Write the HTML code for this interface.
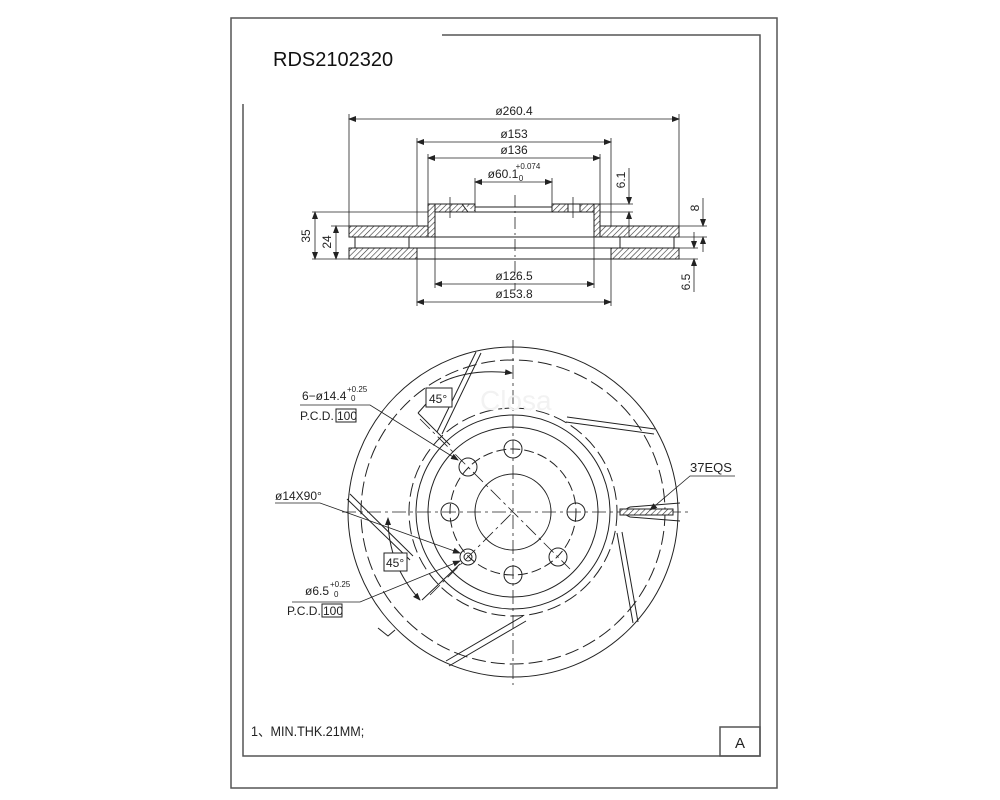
<!DOCTYPE html>
<html><head><meta charset="utf-8"><style>
html,body{margin:0;padding:0;background:#fff;}
svg{display:block;font-family:"Liberation Sans",sans-serif;}
</style></head><body>
<svg width="1000" height="800" viewBox="0 0 1000 800" xmlns="http://www.w3.org/2000/svg">
<defs>
<pattern id="h" width="4" height="4" patternUnits="userSpaceOnUse" patternTransform="rotate(45)">
<rect width="4" height="4" fill="#fff"/><line x1="0" y1="0" x2="0" y2="4" stroke="#333" stroke-width="1.2"/>
</pattern>
<marker id="a" markerWidth="8" markerHeight="6" refX="7" refY="3" orient="auto" markerUnits="userSpaceOnUse"><path d="M0,0L8,3L0,6z" fill="#222"/></marker>
<marker id="as" markerWidth="8" markerHeight="6" refX="1" refY="3" orient="auto" markerUnits="userSpaceOnUse"><path d="M8,0L0,3L8,6z" fill="#222"/></marker>
</defs>
<g fill="none" stroke="#555" stroke-width="1.5">
<rect x="231" y="18" width="546" height="770"/>
<polyline points="442,35 760,35 760,756 243,756 243,104"/>
<rect x="720" y="727" width="40" height="29"/>
</g>
<text x="273" y="66" font-size="20" fill="#111">RDS2102320</text>
<text x="251" y="736" font-size="14" fill="#222" transform="scale(0.9,1)" transform-origin="251 736">1、MIN.THK.21MM;</text>
<text x="735" y="748" font-size="15" fill="#222">A</text>

<!-- section view -->
<g stroke="#222" stroke-width="1">
<rect x="349" y="226" width="79" height="11" fill="url(#h)"/>
<rect x="600" y="226" width="79" height="11" fill="url(#h)"/>
<rect x="428" y="204" width="47" height="8" fill="url(#h)"/>
<rect x="552" y="204" width="48" height="8" fill="url(#h)"/>
<rect x="428" y="204" width="7" height="33" fill="url(#h)"/>
<rect x="594" y="204" width="6" height="33" fill="url(#h)"/>
<rect x="349" y="248" width="68" height="11" fill="url(#h)"/>
<rect x="611" y="248" width="68" height="11" fill="url(#h)"/>
<line x1="435" y1="237" x2="594" y2="237"/>
<line x1="349" y1="248" x2="679" y2="248"/>
<line x1="355" y1="237" x2="355" y2="248"/><line x1="409" y1="237" x2="409" y2="248"/>
<line x1="620" y1="237" x2="620" y2="248"/><line x1="674" y1="237" x2="674" y2="248"/>
<line x1="417" y1="259" x2="611" y2="259"/>
<line x1="475" y1="207" x2="552" y2="207"/>
<line x1="475" y1="212" x2="552" y2="212"/>
<rect x="568" y="204" width="12" height="8" fill="#fff"/>
<path d="M462,204L468,212H476" fill="#fff"/>
<line x1="450" y1="197" x2="450" y2="218" stroke-width="0.8"/>
<line x1="573" y1="197" x2="573" y2="218" stroke-width="0.8"/>
</g>
<g stroke="#222" stroke-width="0.8" fill="none">
<line x1="515" y1="195" x2="515" y2="290" stroke-dasharray="12,4,2,4"/>
<line x1="349" y1="114" x2="349" y2="226"/><line x1="679" y1="114" x2="679" y2="226"/>
<line x1="349" y1="119" x2="679" y2="119" marker-start="url(#as)" marker-end="url(#a)"/>
<line x1="417" y1="138" x2="417" y2="226"/><line x1="611" y1="138" x2="611" y2="226"/>
<line x1="417" y1="142" x2="611" y2="142" marker-start="url(#as)" marker-end="url(#a)"/>
<line x1="428" y1="154" x2="428" y2="204"/><line x1="600" y1="154" x2="600" y2="204"/>
<line x1="428" y1="158" x2="600" y2="158" marker-start="url(#as)" marker-end="url(#a)"/>
<line x1="475" y1="178" x2="475" y2="204"/><line x1="552" y1="178" x2="552" y2="204"/>
<line x1="475" y1="182" x2="552" y2="182" marker-start="url(#as)" marker-end="url(#a)"/>
<line x1="435" y1="237" x2="435" y2="288"/><line x1="594" y1="237" x2="594" y2="288"/>
<line x1="435" y1="284" x2="594" y2="284" marker-start="url(#as)" marker-end="url(#a)"/>
<line x1="417" y1="259" x2="417" y2="306"/><line x1="611" y1="259" x2="611" y2="306"/>
<line x1="417" y1="302" x2="611" y2="302" marker-start="url(#as)" marker-end="url(#a)"/>
<line x1="312" y1="212" x2="428" y2="212"/><line x1="312" y1="259" x2="349" y2="259"/>
<line x1="331" y1="226" x2="349" y2="226"/>
<line x1="315" y1="212" x2="315" y2="259" marker-start="url(#as)" marker-end="url(#a)"/>
<line x1="336" y1="226" x2="336" y2="259" marker-start="url(#as)" marker-end="url(#a)"/>
<line x1="600" y1="204" x2="633" y2="204"/><line x1="600" y1="212" x2="633" y2="212"/>
<line x1="629" y1="168" x2="629" y2="204" marker-end="url(#a)"/>
<line x1="629" y1="212" x2="629" y2="237" marker-start="url(#as)"/>
<line x1="679" y1="226" x2="707" y2="226"/><line x1="679" y1="237" x2="707" y2="237"/>
<line x1="703" y1="198" x2="703" y2="226" marker-end="url(#a)"/>
<line x1="703" y1="237" x2="703" y2="252" marker-start="url(#as)"/>
<line x1="679" y1="248" x2="698" y2="248"/><line x1="679" y1="259" x2="698" y2="259"/>
<line x1="694" y1="232" x2="694" y2="248" marker-end="url(#a)"/>
<line x1="694" y1="259" x2="694" y2="292" marker-start="url(#as)"/>
</g>
<g font-size="12" fill="#222" text-anchor="middle">
<text x="514" y="115">ø260.4</text>
<text x="514" y="138">ø153</text>
<text x="514" y="154">ø136</text>
<text x="503" y="178">ø60.1</text>
<text x="528" y="169" font-size="8">+0.074</text>
<text x="521" y="181" font-size="8">0</text>
<text x="514" y="280">ø126.5</text>
<text x="514" y="298">ø153.8</text>
<text transform="translate(310,236) rotate(-90)">35</text>
<text transform="translate(331,242) rotate(-90)">24</text>
<text transform="translate(625,180) rotate(-90)">6.1</text>
<text transform="translate(699,208) rotate(-90)">8</text>
<text transform="translate(690,282) rotate(-90)">6.5</text>
</g>

<!-- disc view -->
<g stroke="#222" stroke-width="1" fill="none">
<circle cx="513" cy="512" r="165"/>
<circle cx="513" cy="512" r="152" stroke-dasharray="14,5"/>
<circle cx="513" cy="512" r="104" stroke-dasharray="14,5"/>
<circle cx="513" cy="512" r="97"/>
<circle cx="513" cy="512" r="85"/>
<circle cx="513" cy="512" r="63" stroke-dasharray="10,4"/>
<circle cx="513" cy="512" r="38"/>
<g stroke-width="0.8" stroke-dasharray="14,4,3,4">
<line x1="513" y1="340" x2="513" y2="685"/>
<line x1="342" y1="512" x2="690" y2="512"/>
<line x1="420" y1="419" x2="570" y2="569"/>
<line x1="430" y1="595" x2="513" y2="512"/>
</g>
<circle cx="513" cy="449" r="9"/><circle cx="450" cy="512" r="9"/><circle cx="576" cy="512" r="9"/>
<circle cx="513" cy="575" r="9"/><circle cx="468" cy="467" r="9"/><circle cx="558" cy="557" r="9"/>
<circle cx="468" cy="557" r="8"/><circle cx="468" cy="557" r="4"/>
<g stroke-width="1">
<path d="M476,352L437,432M481,353L442,434"/>
<path d="M567,417L655,429M566,422L654,434"/>
<path d="M617,533L633,623M622,532L638,622"/>
<path d="M523,616L446,661M526,621L449,666"/>
<path d="M350,494L413,556M347,499L410,560"/>
<path d="M630,507L680,503M630,517L680,521M630,507Q618,512 630,517"/>
</g>
<rect x="620" y="509" width="53" height="6" fill="url(#h)"/>
<path d="M440,383Q470,368 512,373" marker-end="url(#a)"/>
<line x1="418" y1="413" x2="450" y2="445"/>
<line x1="418" y1="413" x2="426" y2="404"/>
<path d="M388,518Q388,565 420,600" marker-start="url(#as)" marker-end="url(#a)"/>
<line x1="422" y1="600" x2="460" y2="564"/>
<polyline points="300,405 370,405 458,460" stroke-width="0.8" marker-end="url(#a)"/>
<polyline points="275,503 320,503 460,553" stroke-width="0.8" marker-end="url(#a)"/>
<polyline points="292,602 360,602 460,561" stroke-width="0.8" marker-end="url(#a)"/>
<polyline points="735,476 690,476 650,510" stroke-width="0.8" marker-end="url(#a)"/>
<polyline points="378,628 388,636 395,630" stroke-width="1"/>
</g>
<rect x="426" y="388" width="26" height="19" fill="#fff" stroke="#222"/>
<rect x="384" y="553" width="23" height="18" fill="#fff" stroke="#222"/>
<g font-size="12" fill="#222">
<text x="429" y="403">45°</text>
<text x="386" y="567">45°</text>
<text x="302" y="400">6−ø14.4</text><text x="347" y="392" font-size="8">+0.25</text><text x="351" y="401" font-size="8">0</text>
<text x="300" y="420">P.C.D.</text><rect x="336" y="409" width="20" height="13" fill="none" stroke="#222"/><text x="337" y="420">100</text>
<text x="275" y="500">ø14X90°</text>
<text x="305" y="595">ø6.5</text><text x="330" y="587" font-size="8">+0.25</text><text x="334" y="597" font-size="8">0</text>
<text x="287" y="615">P.C.D.</text><rect x="322" y="604" width="20" height="13" fill="none" stroke="#222"/><text x="323" y="615">100</text>
<text x="690" y="472" font-size="13">37EQS</text>
</g>
<text x="480" y="410" font-size="28" fill="#f2f2f2">Closa</text>
</svg>
</body></html>
